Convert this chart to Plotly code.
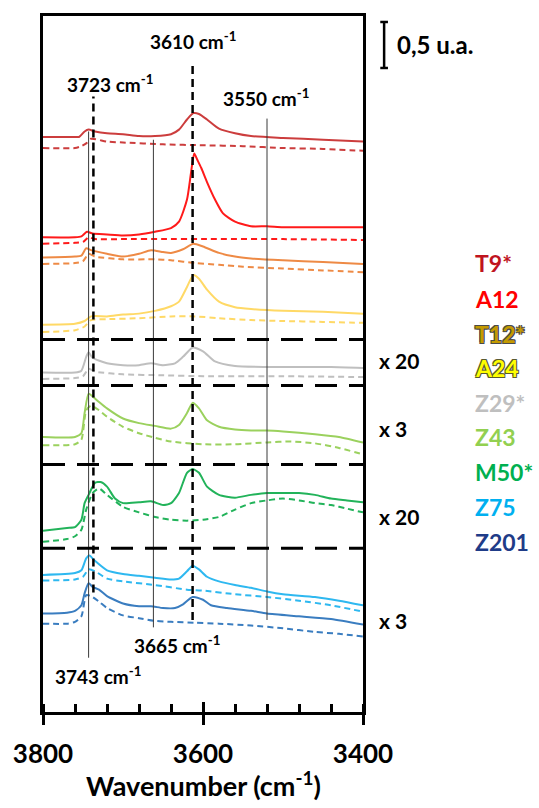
import plotly.graph_objects as go

# ---------------- data (absorbance, u.a., stacked as displayed) ----------------
T9_WN = [3800, 3760, 3755, 3748, 3743, 3735, 3720, 3700, 3680, 3660, 3640, 3630, 3620, 3612, 3605, 3595, 3580, 3560, 3540, 3500, 3450, 3400]
T9_ABS = [6.25, 6.25, 6.25, 6.31, 6.33, 6.31, 6.29, 6.28, 6.26, 6.26, 6.28, 6.33, 6.44, 6.51, 6.50, 6.44, 6.34, 6.29, 6.26, 6.24, 6.22, 6.20]
T9_REF_WN = [3800, 3760, 3752, 3746, 3740, 3720, 3700, 3650, 3600, 3550, 3500, 3450, 3400]
T9_REF_ABS = [6.13, 6.13, 6.15, 6.18, 6.23, 6.20, 6.19, 6.17, 6.16, 6.15, 6.13, 6.12, 6.10]

A12_WN = [3800, 3760, 3752, 3745, 3738, 3720, 3700, 3680, 3660, 3640, 3630, 3620, 3615, 3611, 3607, 3602, 3595, 3585, 3575, 3560, 3540, 3520, 3500, 3450, 3400]
A12_ABS = [5.16, 5.16, 5.17, 5.22, 5.20, 5.19, 5.18, 5.19, 5.22, 5.26, 5.33, 5.57, 5.86, 6.07, 6.00, 5.91, 5.76, 5.57, 5.42, 5.33, 5.28, 5.28, 5.27, 5.27, 5.27]
A12_REF_WN = [3800, 3760, 3750, 3743, 3735, 3700, 3650, 3600, 3500, 3400]
A12_REF_ABS = [5.09, 5.10, 5.11, 5.16, 5.14, 5.14, 5.14, 5.14, 5.14, 5.13]

T12_WN = [3800, 3760, 3752, 3746, 3740, 3720, 3700, 3680, 3665, 3650, 3640, 3625, 3612, 3600, 3580, 3560, 3540, 3500, 3450, 3400]
T12_ABS = [4.94, 4.95, 4.96, 5.04, 5.02, 4.98, 4.95, 4.98, 5.02, 5.00, 4.99, 5.03, 5.09, 5.06, 4.99, 4.95, 4.93, 4.91, 4.89, 4.87]
T12_REF_WN = [3800, 3760, 3750, 3743, 3735, 3700, 3660, 3640, 3610, 3580, 3550, 3500, 3450, 3400]
T12_REF_ABS = [4.87, 4.88, 4.90, 4.98, 4.95, 4.92, 4.92, 4.91, 4.88, 4.86, 4.84, 4.82, 4.80, 4.78]

A24_WN = [3800, 3760, 3748, 3740, 3720, 3700, 3680, 3660, 3640, 3630, 3620, 3612, 3605, 3595, 3580, 3560, 3540, 3500, 3450, 3400]
A24_ABS = [4.21, 4.22, 4.25, 4.30, 4.30, 4.32, 4.33, 4.36, 4.41, 4.46, 4.62, 4.75, 4.71, 4.59, 4.46, 4.40, 4.38, 4.36, 4.35, 4.33]
A24_REF_WN = [3800, 3760, 3748, 3740, 3720, 3680, 3640, 3610, 3580, 3540, 3500, 3450, 3400]
A24_REF_ABS = [4.13, 4.15, 4.19, 4.26, 4.27, 4.28, 4.30, 4.30, 4.28, 4.26, 4.25, 4.24, 4.23]

Z29_WN = [3800, 3760, 3752, 3746, 3743, 3738, 3720, 3700, 3680, 3665, 3650, 3635, 3625, 3613, 3600, 3585, 3560, 3520, 3480, 3440, 3400]
Z29_ABS = [3.69, 3.69, 3.71, 3.86, 3.91, 3.85, 3.79, 3.77, 3.77, 3.79, 3.77, 3.79, 3.86, 3.96, 3.92, 3.81, 3.76, 3.75, 3.75, 3.75, 3.74]
Z29_REF_WN = [3800, 3760, 3750, 3743, 3735, 3700, 3650, 3600, 3500, 3400]
Z29_REF_ABS = [3.62, 3.63, 3.65, 3.73, 3.70, 3.67, 3.66, 3.65, 3.65, 3.64]

Z43_WN = [3800, 3760, 3752, 3748, 3743, 3738, 3730, 3720, 3700, 3680, 3660, 3640, 3630, 3620, 3613, 3605, 3595, 3580, 3560, 3540, 3520, 3500, 3460, 3430, 3400]
Z43_ABS = [2.99, 2.99, 3.03, 3.25, 3.46, 3.43, 3.37, 3.30, 3.19, 3.14, 3.11, 3.08, 3.12, 3.25, 3.36, 3.30, 3.17, 3.10, 3.07, 3.06, 3.06, 3.05, 3.02, 2.99, 2.93]
Z43_REF_WN = [3800, 3760, 3752, 3746, 3740, 3730, 3720, 3700, 3680, 3660, 3640, 3600, 3560, 3520, 3490, 3460, 3430, 3400]
Z43_REF_ABS = [2.90, 2.91, 2.96, 3.28, 3.33, 3.28, 3.21, 3.10, 3.03, 2.98, 2.94, 2.91, 2.91, 2.93, 2.94, 2.92, 2.87, 2.80]

M50_WN = [3800, 3770, 3760, 3752, 3748, 3743, 3735, 3728, 3720, 3710, 3700, 3680, 3665, 3650, 3640, 3630, 3620, 3613, 3605, 3595, 3580, 3560, 3540, 3520, 3500, 3480, 3460, 3440, 3420, 3400]
M50_ABS = [1.97, 2.00, 2.01, 2.09, 2.27, 2.36, 2.49, 2.50, 2.45, 2.32, 2.27, 2.28, 2.29, 2.25, 2.27, 2.38, 2.60, 2.64, 2.60, 2.45, 2.36, 2.33, 2.36, 2.38, 2.38, 2.38, 2.36, 2.32, 2.30, 2.28]
M50_REF_WN = [3800, 3770, 3760, 3752, 3746, 3738, 3730, 3720, 3700, 3680, 3660, 3640, 3620, 3600, 3580, 3560, 3540, 3520, 3500, 3480, 3460, 3440, 3420, 3400]
M50_REF_ABS = [1.85, 1.88, 1.91, 1.98, 2.20, 2.38, 2.43, 2.36, 2.23, 2.17, 2.12, 2.09, 2.08, 2.09, 2.12, 2.20, 2.27, 2.30, 2.32, 2.30, 2.27, 2.25, 2.21, 2.17]

Z75_WN = [3800, 3760, 3752, 3746, 3742, 3736, 3720, 3700, 3680, 3660, 3640, 3630, 3620, 3613, 3605, 3595, 3580, 3560, 3540, 3520, 3500, 3460, 3430, 3400]
Z75_ABS = [1.49, 1.51, 1.54, 1.67, 1.70, 1.65, 1.54, 1.50, 1.48, 1.46, 1.44, 1.45, 1.53, 1.59, 1.55, 1.47, 1.42, 1.38, 1.35, 1.31, 1.28, 1.25, 1.21, 1.16]
Z75_REF_WN = [3800, 3760, 3750, 3743, 3735, 3720, 3700, 3660, 3620, 3600, 3560, 3520, 3480, 3440, 3400]
Z75_REF_ABS = [1.43, 1.44, 1.47, 1.55, 1.53, 1.45, 1.42, 1.38, 1.33, 1.32, 1.28, 1.25, 1.21, 1.16, 1.09]

Z201_WN = [3800, 3770, 3760, 3752, 3748, 3743, 3738, 3730, 3720, 3700, 3680, 3665, 3650, 3635, 3625, 3613, 3600, 3590, 3570, 3540, 3520, 3480, 3440, 3400]
Z201_ABS = [1.07, 1.08, 1.10, 1.16, 1.29, 1.40, 1.36, 1.33, 1.26, 1.18, 1.15, 1.15, 1.13, 1.13, 1.17, 1.25, 1.22, 1.16, 1.13, 1.10, 1.07, 1.04, 1.01, 0.95]
Z201_REF_WN = [3800, 3770, 3760, 3752, 3746, 3740, 3730, 3720, 3700, 3680, 3660, 3640, 3610, 3580, 3540, 3500, 3460, 3430, 3400]
Z201_REF_ABS = [0.96, 0.96, 0.98, 1.04, 1.27, 1.26, 1.20, 1.13, 1.05, 1.02, 0.99, 0.98, 0.97, 0.96, 0.94, 0.91, 0.87, 0.85, 0.82]

SAMPLES = ["T9*", "A12", "T12*", "A24", "Z29*", "Z43", "M50*", "Z75", "Z201"]
LINE_COLORS = ["#CC3D3D", "#FF1A1A", "#EE8A45", "#FFD966", "#BFBFBF", "#9BD15E", "#22B35A", "#2EB8F0", "#3A7DC0"]
LABEL_COLORS = ["#C0141E", "#FF0000", "#C49A00", "#FFFF00", "#BFBFBF", "#92D050", "#00B050", "#00B0F0", "#1F3C88"]
LABEL_OUTLINE = [None, None, "#4A4A4A", "#5A5A30", None, None, None, None, None]
LABEL_Y = [4.88, 4.49, 4.11, 3.74, 3.36, 2.99, 2.61, 2.23, 1.85]

SOLID = [(T9_WN, T9_ABS), (A12_WN, A12_ABS), (T12_WN, T12_ABS), (A24_WN, A24_ABS), (Z29_WN, Z29_ABS),
         (Z43_WN, Z43_ABS), (M50_WN, M50_ABS), (Z75_WN, Z75_ABS), (Z201_WN, Z201_ABS)]
DASHED = [(T9_REF_WN, T9_REF_ABS), (A12_REF_WN, A12_REF_ABS), (T12_REF_WN, T12_REF_ABS), (A24_REF_WN, A24_REF_ABS),
          (Z29_REF_WN, Z29_REF_ABS), (Z43_REF_WN, Z43_REF_ABS), (M50_REF_WN, M50_REF_ABS),
          (Z75_REF_WN, Z75_REF_ABS), (Z201_REF_WN, Z201_REF_ABS)]

# vertical guide lines: (wavenumber, y_bottom, y_top, style)
GUIDE_WN = [3743, 3737, 3613, 3662, 3520]
GUIDE_Y0 = [0.59, 1.30, 1.00, 0.92, 1.00]
GUIDE_Y1 = [6.31, 6.69, 7.07, 6.22, 6.45]
GUIDE_DASHED = [False, True, True, False, False]
# horizontal separators (u.a.)
SEP_Y = [4.05, 3.55, 2.69, 1.78]

PEAK_TEXT = ["3610 cm<sup>-1</sup>", "3723 cm<sup>-1</sup>", "3550 cm<sup>-1</sup>", "3665 cm<sup>-1</sup>", "3743 cm<sup>-1</sup>"]
PEAK_X = [3612, 3716, 3521, 3633, 3731]
PEAK_Y = [7.30, 6.83, 6.68, 0.73, 0.40]

FACTOR_TEXT = ["x 20", "x 3", "x 20", "x 3"]
FACTOR_Y = [3.82, 3.08, 2.13, 1.00]

X_TITLE = "Wavenumber (cm<sup>-1</sup>)"
FONT = "Lato, 'Open Sans', sans-serif"

fig = go.Figure()
for (wn, ab), (rwn, rab), col in zip(SOLID, DASHED, LINE_COLORS):
    fig.add_trace(go.Scatter(x=rwn, y=rab, mode="lines", line=dict(color=col, width=2, dash="6px,4px", shape="spline", smoothing=0.6),
                             showlegend=False, hoverinfo="skip"))
    fig.add_trace(go.Scatter(x=wn, y=ab, mode="lines", line=dict(color=col, width=2, shape="spline", smoothing=0.6),
                             showlegend=False, hoverinfo="skip"))

# invisible trace to carry the overlay axis used for the inner halves of the major ticks
fig.add_trace(go.Scatter(x=[3800, 3400], y=[0, 0], xaxis="x2", mode="lines", line=dict(width=0),
                         showlegend=False, hoverinfo="skip", opacity=0))

shapes = []
for wn, y0, y1, dashed in zip(GUIDE_WN, GUIDE_Y0, GUIDE_Y1, GUIDE_DASHED):
    if dashed:
        line = dict(color="black", width=2.5, dash="8px,5px")
    else:
        line = dict(color="#3a3a3a", width=1)
    shapes.append(dict(type="line", xref="x", yref="y", x0=wn, x1=wn, y0=y0, y1=y1, line=line, layer="above"))
for y in SEP_Y:
    shapes.append(dict(type="line", xref="paper", yref="y", x0=0, x1=1, y0=y, y1=y,
                       line=dict(color="black", width=3, dash="22px,12px"), layer="above"))
# scale bar 0.5 u.a.
SCALE_LOW, SCALE_HIGH = 7.0, 7.5
shapes.append(dict(type="line", xref="paper", yref="y", x0=1.066, x1=1.066, y0=SCALE_LOW, y1=SCALE_HIGH,
                   line=dict(color="black", width=2.5)))
for yv in (SCALE_LOW, SCALE_HIGH):
    shapes.append(dict(type="line", xref="paper", yref="y", x0=1.054, x1=1.078, y0=yv, y1=yv,
                       line=dict(color="black", width=2.5)))

annotations = []
for t, x, y in zip(PEAK_TEXT, PEAK_X, PEAK_Y):
    annotations.append(dict(text=t, x=x, y=y, xref="x", yref="y", showarrow=False,
                            font=dict(family=FONT, size=19, color="black", weight="bold")))
for t, y in zip(FACTOR_TEXT, FACTOR_Y):
    annotations.append(dict(text=t, x=1.044, y=y, xref="paper", yref="y", xanchor="left", showarrow=False,
                            font=dict(family=FONT, size=21, color="black", weight="bold")))
for s, c, o, y in zip(SAMPLES, LABEL_COLORS, LABEL_OUTLINE, LABEL_Y):
    f = dict(family=FONT, size=23, color=c, weight="bold")
    if o:
        f["shadow"] = f"-1px -1px 0 {o}, 1px -1px 0 {o}, -1px 1px 0 {o}, 1px 1px 0 {o}"
    annotations.append(dict(text=s, x=1.344, y=y, xref="paper", yref="y", xanchor="left", showarrow=False, font=f))
annotations.append(dict(text="0,5 u.a.", x=1.100, y=7.25, xref="paper", yref="y", xanchor="left", showarrow=False,
                        font=dict(family=FONT, size=24, color="black", weight="bold")))
annotations.append(dict(text=X_TITLE, x=0.5, y=-0.132, xref="paper", yref="paper", xanchor="center", yanchor="bottom",
                        showarrow=False, font=dict(family=FONT, size=27, color="black", weight="bold")))

fig.update_layout(
    width=539, height=808,
    margin=dict(l=43, r=176, t=16, b=96),
    plot_bgcolor="white", paper_bgcolor="white",
    shapes=shapes, annotations=annotations,
    xaxis=dict(range=[3800, 3400], showline=True, linecolor="black", linewidth=3, mirror=True,
               ticks="outside", ticklen=10, tickwidth=2.5, tickcolor="black",
               tickvals=[3800, 3600, 3400], ticktext=["3800", "3600", "3400"],
               minor=dict(ticks="inside", ticklen=8, tickwidth=2.5, tickcolor="black", dtick=40, tick0=3400, showgrid=False),
               showgrid=False, zeroline=False, ticklabelstandoff=7, automargin=False,
               tickfont=dict(family=FONT, size=26, color="black", weight="bold")),
    xaxis2=dict(range=[3800, 3400], overlaying="x", anchor="y", side="bottom", showline=False, showgrid=False,
                zeroline=False, ticks="inside", ticklen=10, tickwidth=2.5, tickcolor="black",
                tickvals=[3800, 3600, 3400], showticklabels=False, automargin=False),
    yaxis=dict(range=[0, 7.565], showline=True, linecolor="black", linewidth=3, mirror=True,
               ticks="", showticklabels=False, showgrid=False, zeroline=False, automargin=False),
)

fig.write_html("out.html")
